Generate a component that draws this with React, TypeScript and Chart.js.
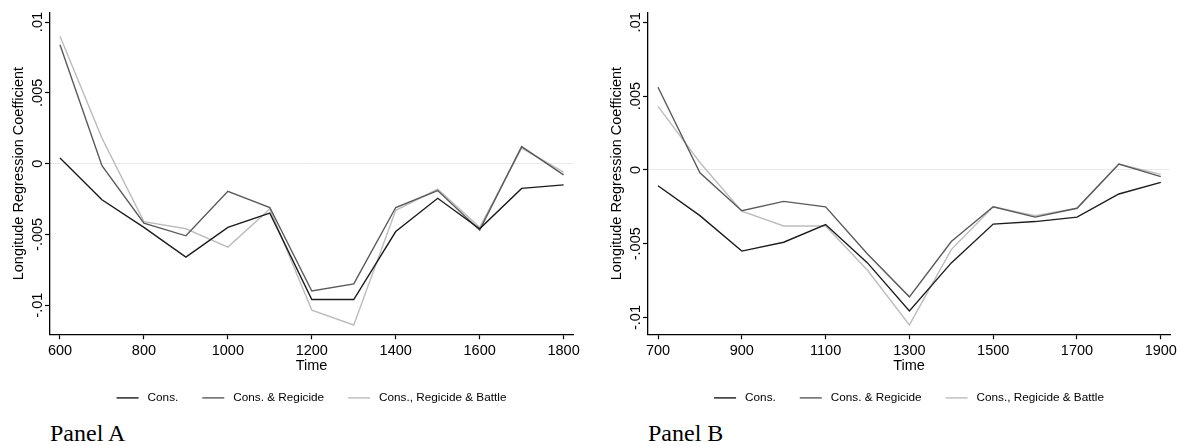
import React, { useEffect, useRef } from "react";
import { Chart, registerables } from "chart.js";

Chart.register(...registerables);

// ---------- data ----------
const SERIES_NAMES = ["Cons.", "Cons. & Regicide", "Cons., Regicide & Battle"];
const SERIES_COLORS = ["#1c1c1c", "#5a5a5a", "#bdbdbd"];

const YEARS_A = [600, 700, 800, 900, 1000, 1100, 1200, 1300, 1400, 1500, 1600, 1700, 1800];
const CONS_A = [0.0004, -0.00255, -0.0045, -0.0066, -0.0045, -0.0035, -0.0096, -0.0096, -0.0048, -0.00245, -0.0046, -0.00175, -0.0015];
const REG_A = [0.0084, -0.00015, -0.0042, -0.0051, -0.00195, -0.0031, -0.009, -0.0085, -0.0031, -0.0019, -0.0047, 0.0012, -0.0008];
const BAT_A = [0.009, 0.0018, -0.0041, -0.0046, -0.0059, -0.0032, -0.01035, -0.0114, -0.0033, -0.0018, -0.0045, 0.0011, -0.0006];
const X_TICKS_A = [600, 800, 1000, 1200, 1400, 1600, 1800];

const YEARS_B = [700, 800, 900, 1000, 1100, 1200, 1300, 1400, 1500, 1600, 1700, 1800, 1900];
const CONS_B = [-0.00107, -0.0031, -0.0055, -0.0049, -0.0037, -0.0063, -0.00955, -0.0063, -0.00367, -0.0035, -0.0032, -0.00163, -0.00084];
const REG_B = [0.0056, -0.0002, -0.00276, -0.00213, -0.0025, -0.0057, -0.0086, -0.00485, -0.0025, -0.0032, -0.0026, 0.0004, -0.00045];
const BAT_B = [0.0043, 0.0005, -0.0028, -0.0038, -0.0038, -0.0068, -0.0105, -0.0054, -0.0025, -0.0031, -0.0026, 0.0004, -0.0003];
const X_TICKS_B = [700, 900, 1100, 1300, 1500, 1700, 1900];

const Y_TICK_VALUES = [0.01, 0.005, 0, -0.005, -0.01];
const Y_TICK_LABELS = [".01", ".005", "0", "-.005", "-.01"];

const SANS = "'Liberation Sans', Arial, Helvetica, sans-serif";

type PanelProps = {
  years: number[];
  series: number[][];
  xTicks: number[];
  xMin: number;
  xMax: number;
  yMin: number;
  yMax: number;
  width: number;
  height: number;
  padRight: number;
};

function Panel(p: PanelProps) {
  const ref = useRef<HTMLCanvasElement | null>(null);
  useEffect(() => {
    if (!ref.current) return;
    const yLabelPlugin = {
      id: "yLabels",
      afterDraw(chart: any) {
        const ctx = chart.ctx;
        const ys = chart.scales.y;
        const area = chart.chartArea;
        ctx.save();
        ctx.fillStyle = "#000";
        ctx.font = `14.5px ${SANS}`;
        ctx.textAlign = "center";
        ctx.textBaseline = "middle";
        Y_TICK_VALUES.forEach((v, i) => {
          const y = ys.getPixelForValue(v);
          ctx.save();
          ctx.translate(area.left - 12.5, y);
          ctx.rotate(-Math.PI / 2);
          ctx.fillText(Y_TICK_LABELS[i], 0, 0);
          ctx.restore();
        });
        ctx.restore();
      },
    };
    const legendPlugin = {
      id: "bottomLegend",
      afterDraw(chart: any) {
        const ctx = chart.ctx;
        const area = chart.chartArea;
        const lineLen = 22;
        const textGap = 9;
        const itemGap = 24;
        ctx.save();
        ctx.font = `11.75px ${SANS}`;
        const widths = chart.data.datasets.map((d: any) => ctx.measureText(d.label).width);
        const total = widths.reduce((a: number, w: number) => a + lineLen + textGap + w, 0) + itemGap * (widths.length - 1);
        let x = (area.left + area.right) / 2 - total / 2;
        const y = area.bottom + 63.7;
        chart.data.datasets.forEach((d: any, i: number) => {
          ctx.strokeStyle = d.borderColor;
          ctx.lineWidth = 1.4;
          ctx.beginPath();
          ctx.moveTo(x, y);
          ctx.lineTo(x + lineLen, y);
          ctx.stroke();
          ctx.fillStyle = "#000";
          ctx.textAlign = "left";
          ctx.textBaseline = "middle";
          ctx.fillText(d.label, x + lineLen + textGap, y);
          x += lineLen + textGap + widths[i] + itemGap;
        });
        ctx.restore();
      },
    };
    const chart = new Chart(ref.current, {
      type: "line",
      data: {
        datasets: p.series.map((vals, i) => ({
          label: SERIES_NAMES[i],
          data: p.years.map((yr, j) => ({ x: yr, y: vals[j] })),
          borderColor: SERIES_COLORS[i],
          backgroundColor: SERIES_COLORS[i],
          borderWidth: 1.4,
          pointRadius: 0,
          tension: 0,
          fill: false,
        })),
      },
      options: {
        animation: false,
        responsive: false,
        devicePixelRatio: 1,
        layout: { padding: { left: 0, right: p.padRight, top: 13, bottom: 42.5 } },
        plugins: {
          tooltip: { enabled: false },
          legend: { display: false },
        },
        scales: {
          x: {
            type: "linear",
            min: p.xMin,
            max: p.xMax,
            afterBuildTicks: (s: any) => {
              s.ticks = p.xTicks.map((v) => ({ value: v }));
            },
            ticks: {
              color: "#000",
              padding: 3,
              maxRotation: 0,
              autoSkip: false,
              font: { family: SANS, size: 14.5 },
              callback: (v: any) => String(v),
            },
            grid: {
              drawOnChartArea: false,
              drawTicks: true,
              tickLength: 5,
              tickColor: "#000",
              tickWidth: 1.2,
            },
            border: { display: true, color: "#000", width: 1.3 },
            title: {
              display: true,
              text: "Time",
              color: "#000",
              font: { family: SANS, size: 14.5 },
              padding: { top: -5.5, bottom: 0 },
            },
          },
          y: {
            type: "linear",
            min: p.yMin,
            max: p.yMax,
            afterBuildTicks: (s: any) => {
              s.ticks = Y_TICK_VALUES.map((v) => ({ value: v }));
            },
            afterFit: (s: any) => {
              s.width = 50;
            },
            ticks: { display: false },
            grid: {
              drawTicks: true,
              tickLength: 5,
              tickWidth: 1.2,
              tickColor: "#000",
              lineWidth: 1,
              color: (c: any) => (c.tick && c.tick.value === 0 ? "#e9e9e9" : "rgba(0,0,0,0)"),
            },
            border: { display: true, color: "#000", width: 1.3 },
            title: {
              display: true,
              text: "Longitude Regression Coefficient",
              color: "#000",
              font: { family: SANS, size: 14.5 },
              padding: { top: 10, bottom: 0 },
            },
          },
        },
      },
      plugins: [yLabelPlugin, legendPlugin],
    });
    return () => chart.destroy();
  }, []);
  return <canvas ref={ref} width={p.width} height={p.height} style={{ width: p.width, height: p.height, display: "block" }} />;
}

const panelLabelStyle: React.CSSProperties = {
  position: "absolute",
  top: 421,
  fontFamily: "'Liberation Serif', 'Times New Roman', serif",
  fontSize: 24,
  lineHeight: "24px",
  color: "#000",
  whiteSpace: "nowrap",
};

export default function App() {
  return (
    <div style={{ position: "fixed", left: 0, top: 0, width: 1184, height: 446, background: "#fff", overflow: "hidden" }}>
      <div style={{ position: "absolute", left: 0, top: 0 }}>
        <Panel years={YEARS_A} series={[CONS_A, REG_A, BAT_A]} xTicks={X_TICKS_A} xMin={576.2} xMax={1822.4} yMin={-0.01205} yMax={0.01064} width={592} height={417} padRight={19} />
      </div>
      <div style={{ position: "absolute", left: 598, top: 0 }}>
        <Panel years={YEARS_B} series={[CONS_B, REG_B, BAT_B]} xTicks={X_TICKS_B} xMin={676.1} xMax={1922} yMin={-0.01113} yMax={0.01063} width={586} height={417} padRight={14} />
      </div>
      <div style={{ ...panelLabelStyle, left: 50 }}>Panel A</div>
      <div style={{ ...panelLabelStyle, left: 648 }}>Panel B</div>
    </div>
  );
}
